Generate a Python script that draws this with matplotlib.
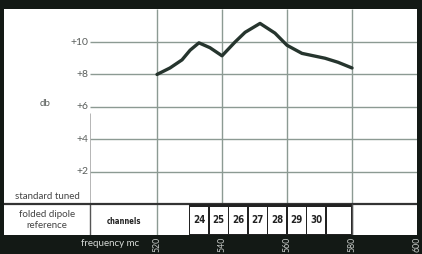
import matplotlib
matplotlib.use('Agg')
import matplotlib.pyplot as plt
from matplotlib.patches import Rectangle

# response curve, folded dipole vs standard tuned reference
freq = [520, 524, 527.7, 530.2, 532.9, 536.3, 540, 544, 547.1, 551.7, 556.3, 560, 564.6, 571.7, 575.7, 580]
db = [8.0, 8.4, 8.9, 9.5, 9.95, 9.65, 9.15, 10.0, 10.6, 11.15, 10.55, 9.8, 9.3, 9.0, 8.75, 8.4]

db_ticks = [2, 4, 6, 8, 10]
db_labels = ['+2', '+4', '+6', '+8', '+10']
freq_ticks = [520, 540, 560, 580, 600]
freq_labels = ['520', '540', '560', '580', '600']

channels = ['24', '25', '26', '27', '28', '29', '30', '']
chan_lo = [530, 536, 542, 548, 554, 560, 566, 572]
chan_hi = [536, 542, 548, 554, 560, 566, 572, 580]

plt.rcParams['font.family'] = ['Lato', 'DejaVu Sans']
dark = '#131915'
gridc = '#8c9a93'
textc = '#5a5e5c'

fig = plt.figure(figsize=(4.22, 2.54), dpi=100, facecolor=dark)
ax = fig.add_axes([4/422, 19/254, 413/422, 226/254])
ax.set_facecolor('white')
ax.set_xlim(472.92, 600)
ax.set_ylim(-1.914, 12.04)
for s in ax.spines.values():
    s.set_visible(False)

xlab = 499.4  # left edge of the grid / label column divider

# horizontal grid
ax.hlines(db_ticks, xlab, 600, color=gridc, lw=1.0)
# vertical grid
ax.vlines(freq_ticks[:-1], -1.914, 12.04, color=gridc, lw=1.0)
ax.vlines(xlab, -1.914, 0, color='#555', lw=1.0)
ax.vlines(xlab, 0, 5.6, color='#aaa', lw=0.6)
# baseline
ax.axhline(0, color='#333', lw=1.6)

# the curve
ax.plot(freq, db, color='#26352e', lw=2.4, solid_capstyle='round', solid_joinstyle='round')

# y labels
for v, l in zip(db_ticks, db_labels):
    ax.text(xlab - 0.6, v, l, ha='right', va='center', fontsize=7.5, color=textc)
ax.text(485.5, 6.2, 'db', ha='center', va='center', fontsize=7, color=textc)

# bottom table row
ax.text(486.2, 0.45, 'standard tuned', ha='center', va='center', fontsize=7, color='#444')
ax.text(486.2, -0.62, 'folded dipole', ha='center', va='center', fontsize=7, color='#444')
ax.text(486.2, -1.35, 'reference', ha='center', va='center', fontsize=7, color='#444')
ax.text(509.7, -1.1, 'channels', ha='center', va='center', fontsize=5.5,
        color='#222', weight='bold', fontstretch='condensed', family='DejaVu Sans')

ax.add_patch(Rectangle((chan_lo[0] - 0.3, -1.914), chan_hi[-1] - chan_lo[0] + 0.3, 1.914,
                       facecolor='#222', edgecolor='none', zorder=3))
for c, lo, hi in zip(channels, chan_lo, chan_hi):
    ax.add_patch(Rectangle((lo + 0.3, -1.85), hi - lo - 0.6, 1.66,
                           facecolor='white', edgecolor='none', zorder=4))
    ax.text((lo + hi) / 2, -1.0, c, ha='center', va='center', fontsize=7, color='#222',
            weight='bold', family='DejaVu Sans', fontstretch='condensed', zorder=5)
ax.vlines(580, -1.914, 0, color='#555', lw=1.0, zorder=6)

# frequency axis in the dark band
ax.set_yticks([])
ax.set_xticks(freq_ticks)
ax.set_xticklabels(freq_labels, rotation=90, fontsize=6.3, color='#c8ccc9')
ax.tick_params(axis='x', length=0, pad=1)
fig.text(110/422, 1 - 244/254, 'frequency mc', ha='center', va='center', fontsize=7, color='#d6dad7')

fig.savefig('out.png', dpi=100, facecolor=dark)
